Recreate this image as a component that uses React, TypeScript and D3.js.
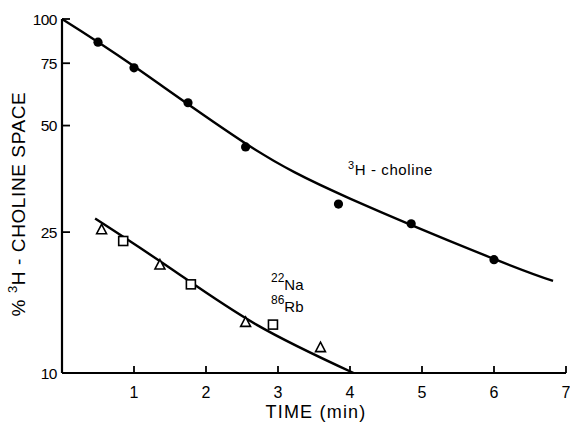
import React from "react";
import * as d3 from "d3";

// ---- data ----
const cholineTime = [0.5, 1.0, 1.75, 2.55, 3.84, 4.85, 6.0];
const cholinePct = [86, 72.8, 58, 43.5, 30, 26.4, 20.9];

const naTime = [0.55, 1.36, 2.55, 3.59];
const naPct = [25.4, 20.2, 13.9, 11.8];

const rbTime = [0.85, 1.79, 2.93];
const rbPct = [23.6, 17.8, 13.7];

const cholineFitTime = [0, 1, 2.55, 4.0, 6.0, 6.82];
const cholineFitPct = [100, 73.5, 44.5, 31.1, 21, 18.2];

const ionFitTime = [0.46, 1.5, 2.7, 4.05];
const ionFitPct = [27.3, 19.8, 13.7, 10.0];

const xTicks = [1, 2, 3, 4, 5, 6, 7];
const yTicks = [10, 25, 50, 75, 100];

const FONT = "'Liberation Sans', Arial, Helvetica, sans-serif";

export default function App() {
  const W = 570;
  const H = 424;
  const x = d3.scaleLinear().domain([0, 7]).range([62, 566]);
  const y = d3.scaleLog().domain([10, 100]).range([373, 19]);

  const line = d3
    .line<[number, number]>()
    .x((d) => x(d[0]))
    .y((d) => y(d[1]))
    .curve(d3.curveNatural);

  const cholineFit = cholineFitTime.map((t, i) => [t, cholineFitPct[i]] as [number, number]);
  const ionFit = ionFitTime.map((t, i) => [t, ionFitPct[i]] as [number, number]);

  const tri = (cx: number, cy: number, s: number) =>
    `M${cx},${cy - s * 0.6} L${cx + s * 0.55},${cy + s * 0.45} L${cx - s * 0.55},${cy + s * 0.45} Z`;

  return (
    <svg
      width={W}
      height={H}
      style={{ position: "absolute", left: 0, top: 0, background: "#fff" }}
      fontFamily={FONT}
    >
      <rect x={0} y={0} width={W} height={H} fill="#fff" />
      {/* axes */}
      <line x1={x(0)} x2={x(0)} y1={y(100)} y2={y(10)} stroke="#000" strokeWidth={2.2} />
      <line x1={x(0)} x2={x(7)} y1={y(10)} y2={y(10)} stroke="#000" strokeWidth={2.2} />
      {xTicks.map((t) => (
        <g key={"xt" + t}>
          <line x1={x(t)} x2={x(t)} y1={y(10)} y2={y(10) - 7} stroke="#000" strokeWidth={1.8} />
          <text x={x(t)} y={398} fontSize={16} textAnchor="middle" fill="#000">
            {t}
          </text>
        </g>
      ))}
      {yTicks.map((t) => (
        <g key={"yt" + t}>
          {t !== 10 && (
            <line x1={x(0)} x2={x(0) + 8} y1={y(t)} y2={y(t)} stroke="#000" strokeWidth={1.8} />
          )}
          <text
            x={57}
            y={y(t)}
            dy="0.36em"
            fontSize={15.5}
            textAnchor="end"
            fill="#000"
            letterSpacing={-0.5}
          >
            {t}
          </text>
        </g>
      ))}

      {/* fit curves */}
      <path d={line(cholineFit) || ""} fill="none" stroke="#000" strokeWidth={2.4} />
      <path d={line(ionFit) || ""} fill="none" stroke="#000" strokeWidth={2.4} />

      {/* markers */}
      {cholineTime.map((t, i) => (
        <circle key={"c" + i} cx={x(t)} cy={y(cholinePct[i])} r={4.6} fill="#000" />
      ))}
      {naTime.map((t, i) => (
        <path
          key={"n" + i}
          d={tri(x(t), y(naPct[i]), 9)}
          fill="#fff"
          stroke="#000"
          strokeWidth={1.6}
        />
      ))}
      {rbTime.map((t, i) => (
        <rect
          key={"r" + i}
          x={x(t) - 4.5}
          y={y(rbPct[i]) - 4.5}
          width={9}
          height={9}
          fill="#fff"
          stroke="#000"
          strokeWidth={1.6}
        />
      ))}

      {/* labels */}
      <text x={348} y={175} fontSize={15} fill="#000" letterSpacing={0.6}>
        <tspan fontSize={11} dy={-6}>3</tspan>
        <tspan dy={6}>H - choline</tspan>
      </text>
      <text x={271} y={290} fontSize={15} fill="#000">
        <tspan fontSize={12} dy={-8}>22</tspan>
        <tspan dy={8}>Na</tspan>
      </text>
      <text x={271} y={312} fontSize={15} fill="#000">
        <tspan fontSize={12} dy={-8}>86</tspan>
        <tspan dy={8}>Rb</tspan>
      </text>

      {/* axis titles */}
      <text x={316} y={418} fontSize={18} textAnchor="middle" fill="#000" letterSpacing={1.2}>
        TIME (min)
      </text>
      <text
        transform="translate(25,204) rotate(-90)"
        fontSize={19}
        textAnchor="middle"
        fill="#000"
        letterSpacing={0.6}
      >
        <tspan>% </tspan>
        <tspan fontSize={13} dy={-8}>3</tspan>
        <tspan dy={8}>H - CHOLINE  SPACE</tspan>
      </text>
    </svg>
  );
}
